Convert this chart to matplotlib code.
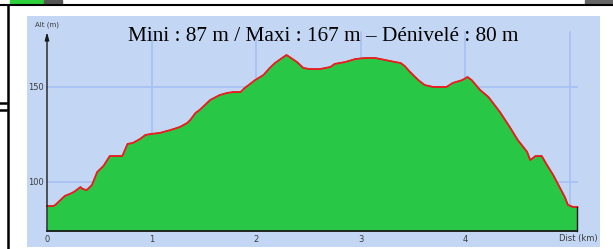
import numpy as np
import matplotlib.pyplot as plt
from matplotlib.patches import Rectangle

# profile: distance [km], altitude [m]
dist = [0.00, 0.06, 0.08, 0.12, 0.17, 0.24, 0.27, 0.32, 0.34, 0.38,
        0.43, 0.48, 0.54, 0.60, 0.72, 0.77, 0.82, 0.89, 0.94, 0.99,
        1.08, 1.18, 1.27, 1.34, 1.37, 1.42, 1.46, 1.51, 1.56, 1.65,
        1.72, 1.78, 1.85, 1.89, 1.99, 2.07, 2.13, 2.18, 2.26, 2.29,
        2.32, 2.39, 2.45, 2.51, 2.61, 2.71, 2.75, 2.85, 2.95, 3.04,
        3.14, 3.23, 3.33, 3.38, 3.42, 3.47, 3.55, 3.61, 3.69, 3.76,
        3.82, 3.88, 3.97, 4.02, 4.06, 4.14, 4.22, 4.33, 4.43, 4.50,
        4.56, 4.59, 4.62, 4.67, 4.73, 4.78, 4.84, 4.90, 4.95, 4.98,
        5.03, 5.07]
alt = [87.5, 87.5, 88.1, 90.2, 92.8, 94.4, 95.4, 97.5, 96.5, 95.9,
       98.6, 105.4, 108.6, 113.8, 113.8, 120.2, 120.7, 122.8, 124.9, 125.4,
       126.0, 127.5, 129.1, 131.2, 132.8, 136.5, 138.1, 140.7, 143.3, 145.9,
       147.0, 147.5, 147.5, 149.6, 153.8, 156.5, 160.2, 162.8, 165.9, 167.0,
       165.9, 163.3, 160.2, 159.6, 159.6, 160.7, 162.3, 163.3, 164.9, 165.4,
       165.4, 164.4, 163.3, 162.8, 161.2, 158.1, 153.8, 151.2, 150.2, 150.2,
       150.2, 152.3, 153.8, 155.4, 153.8, 148.6, 144.9, 137.0, 128.6, 122.3,
       118.1, 116.0, 111.7, 113.8, 113.8, 109.1, 103.8, 97.5, 92.3, 88.1,
       87.0, 87.0]

x_ticks = [0, 1, 2, 3, 4]
x_grid = [1, 2, 3, 4, 5]
y_ticks = [100, 150]
title = "Mini : 87 m / Maxi : 167 m \u2013 Dénivelé : 80 m"

W, H = 613, 249
# pixel -> data mapping of the plot area
X0_PX, KM_PX = 47, 104.6
Y87_PX, M_PX = 207, 1.9
def px_x(p): return (p - X0_PX) / KM_PX
def px_y(p): return 87 + (Y87_PX - p) / M_PX

fig = plt.figure(figsize=(W / 100, H / 100), dpi=100)

# screenshot frame around the panel
bg = fig.add_axes([0, 0, 1, 1])
bg.set_xlim(0, W)
bg.set_ylim(H, 0)
bg.axis('off')
bg.add_patch(Rectangle((10, 0), 33, 4, color='#2fd13a'))
bg.add_patch(Rectangle((44, 0), 18, 4, color='#555555'))
bg.add_patch(Rectangle((585, 0), 28, 4, color='#666666'))
bg.plot([0, W], [4.5, 4.5], color='black', lw=1.5)
bg.plot([7.5, 7.5], [4.5, H], color='black', lw=1.8)
bg.plot([0, 6], [102.5, 102.5], color='black', lw=1.8)
bg.plot([0, 6], [110, 110], color='black', lw=1.8)

# blue panel
ax = fig.add_axes([27 / W, (H - 247) / H, (600 - 27) / W, (247 - 16) / H])
ax.set_facecolor('#c3d7f4')
ax.set_xlim(px_x(27), px_x(600))
ax.set_ylim(px_y(247), px_y(16))
ax.set_xticks([])
ax.set_yticks([])
for s in ax.spines.values():
    s.set_visible(False)

ybot = px_y(231)
ytop = px_y(32)
xend = dist[-1]

grid_c = '#a6bff3'
for g in x_grid:
    ax.plot([g, g], [ybot, ytop], color=grid_c, lw=1.2, zorder=1)
for g in y_ticks:
    ax.plot([0, xend], [g, g], color=grid_c, lw=1.2, zorder=1)

ax.fill_between(dist, alt, ybot, color='#28c846', lw=0, zorder=2)
ax.plot(dist, alt, color='#2b4a2b', lw=0.8, zorder=3)
ax.plot(dist, alt, color='#ee1c1c', lw=1.3, zorder=4)
ax.plot([xend, xend], [ybot, alt[-1]], color='#1a1a1a', lw=1.0, zorder=5)

# axes
ax.plot([0, xend], [ybot, ybot], color='#1a1a1a', lw=1.3, zorder=5)
ax.annotate('', xy=(0, ytop), xytext=(0, ybot),
            arrowprops=dict(arrowstyle='-|>,head_width=0.12,head_length=0.45',
                            color='#1a1a1a', lw=1.0, shrinkA=0, shrinkB=0),
            zorder=6)

lab_c = '#3a3a3a'
for t in x_ticks:
    ax.text(t, px_y(239), str(t), ha='center', va='center', fontsize=6, color=lab_c)
for t in y_ticks:
    ax.text(px_x(44), t, str(t), ha='right', va='center', fontsize=6, color=lab_c)
ax.text(px_x(47), px_y(25), 'Alt (m)', ha='center', va='center', fontsize=5, color=lab_c)
ax.text(px_x(578), px_y(239), 'Dist (km)', ha='center', va='center', fontsize=6, color=lab_c)

fig.text(323 / W, 1 - 41 / H, title, ha='center', va='baseline',
         fontfamily='Liberation Serif', fontsize=15.3, color='black')

fig.savefig('out.png', dpi=100)
